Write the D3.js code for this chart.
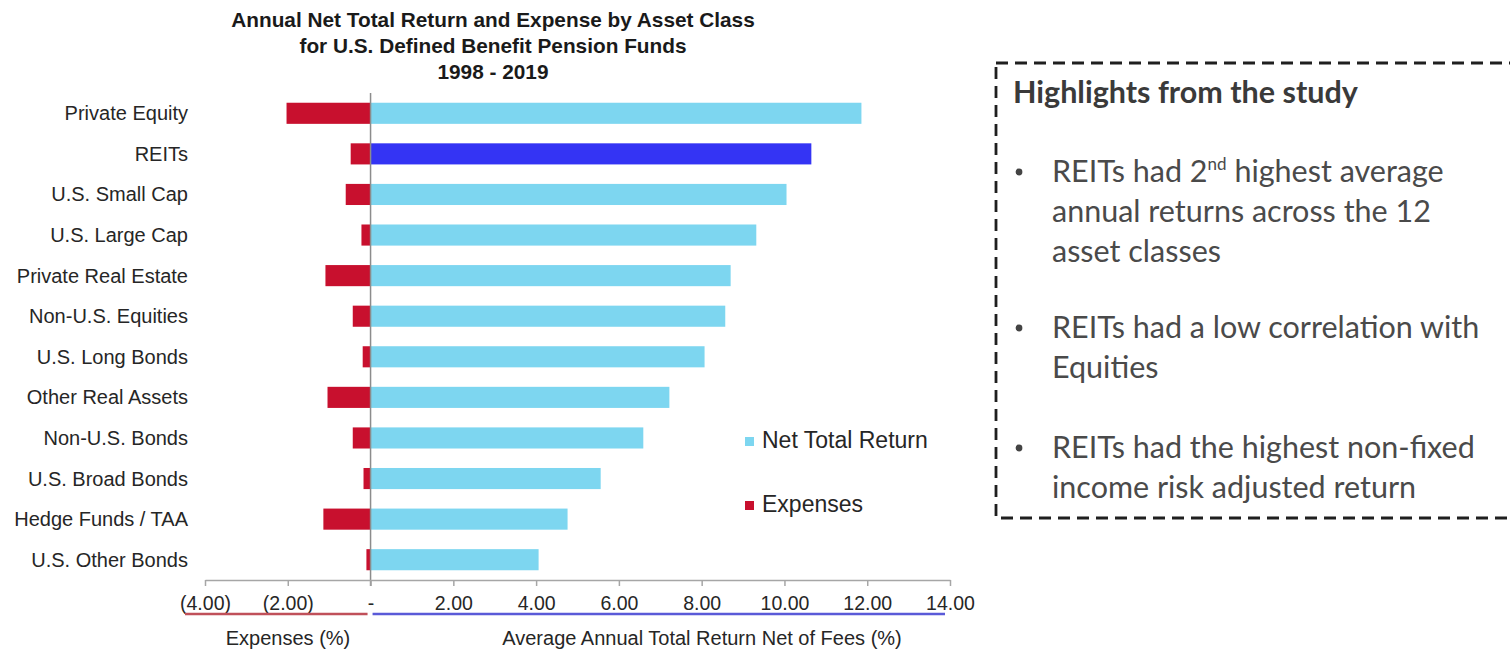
<!DOCTYPE html>
<html>
<head>
<meta charset="utf-8">
<script src="https://cdn.jsdelivr.net/npm/d3@7/dist/d3.min.js"></script>
<style>
  html, body { margin: 0; padding: 0; background: #fff; }
  svg { display: block; }
</style>
</head>
<body>
<svg id="chart" width="1510" height="655"></svg>
<script>
// Asset classes, top to bottom
const categories = [
  "Private Equity", "REITs", "U.S. Small Cap", "U.S. Large Cap",
  "Private Real Estate", "Non-U.S. Equities", "U.S. Long Bonds",
  "Other Real Assets", "Non-U.S. Bonds", "U.S. Broad Bonds",
  "Hedge Funds / TAA", "U.S. Other Bonds"
];
// Average annual total return net of fees (%)
const netReturn = [11.86, 10.65, 10.05, 9.32, 8.70, 8.57, 8.07, 7.22, 6.59, 5.56, 4.76, 4.06];
// Expenses (%), drawn to the left of zero
const expenses = [-2.03, -0.48, -0.60, -0.22, -1.09, -0.43, -0.19, -1.04, -0.43, -0.17, -1.14, -0.10];
const highlighted = "REITs";

const tickValues = [-4, -2, 0, 2, 4, 6, 8, 10, 12, 14];
const tickLabels = ["(4.00)", "(2.00)", "-", "2.00", "4.00", "6.00", "8.00", "10.00", "12.00", "14.00"];

const titleLines = [
  "Annual Net Total Return and Expense by Asset Class",
  "for U.S. Defined Benefit Pension Funds",
  "1998 - 2019"
];
const legendItems = ["Net Total Return", "Expenses"];
const axisTitles = ["Expenses (%)", "Average Annual Total Return Net of Fees (%)"];

const boxHeading = "Highlights from the study";
const bullets = [
  [[{t: "REITs had 2"}, {t: "nd", sup: true}, {t: " highest average"}], [{t: "annual returns across the 12"}], [{t: "asset classes"}]],
  [[{t: "REITs had a low correlation with"}], [{t: "Equities"}]],
  [[{t: "REITs had the highest non-fixed"}], [{t: "income risk adjusted return"}]]
];

const COLORS = {
  net: "#7dd6f0",
  highlight: "#3434f4",
  expense: "#c8102e",
  zero: "#8c8c8c",
  axis: "#a6a6a6",
  text: "#262626",
  expUnder: "#c0505a",
  netUnder: "#5a5ad8"
};

const svg = d3.select("#chart");
const FONT = "Arial, 'Liberation Sans', Helvetica, sans-serif";

// Scales
const x = d3.scaleLinear().domain([-4, 14]).range([205, 950]);
const y = d3.scaleBand().domain(categories).range([93, 580]).paddingInner(0.48).paddingOuter(0.24);

// Title
svg.append("g").selectAll("text").data(titleLines).join("text")
  .attr("x", 493).attr("y", (d, i) => 27 + i * 26)
  .attr("text-anchor", "middle")
  .attr("font-family", FONT).attr("font-weight", "bold").attr("font-size", 20.8)
  .attr("fill", "#1a1a1a")
  .text(d => d);

// Category labels
svg.append("g").selectAll("text").data(categories).join("text")
  .attr("x", 188).attr("y", d => y(d) + y.bandwidth() / 2 + 7)
  .attr("text-anchor", "end")
  .attr("font-family", FONT).attr("font-size", 20)
  .attr("fill", COLORS.text)
  .text(d => d);

// Net return bars
svg.append("g").selectAll("rect").data(categories).join("rect")
  .attr("x", x(0))
  .attr("y", d => y(d))
  .attr("width", (d, i) => x(netReturn[i]) - x(0))
  .attr("height", y.bandwidth())
  .attr("fill", d => d === highlighted ? COLORS.highlight : COLORS.net);

// Expense bars
svg.append("g").selectAll("rect").data(categories).join("rect")
  .attr("x", (d, i) => x(expenses[i]))
  .attr("y", d => y(d))
  .attr("width", (d, i) => x(0) - x(expenses[i]))
  .attr("height", y.bandwidth())
  .attr("fill", COLORS.expense);

// Zero line
svg.append("line")
  .attr("x1", x(0)).attr("x2", x(0))
  .attr("y1", 93).attr("y2", 586)
  .attr("stroke", COLORS.zero).attr("stroke-width", 1.5);

// Bottom axis
const axisG = svg.append("g").attr("transform", "translate(0,580)")
  .call(d3.axisBottom(x).tickValues(tickValues).tickSize(6).tickSizeOuter(0)
    .tickFormat((d, i) => tickLabels[i]));
axisG.select(".domain").attr("stroke", COLORS.axis).attr("stroke-width", 1.5);
axisG.selectAll(".tick line").attr("stroke", COLORS.axis).attr("stroke-width", 1.5);
axisG.selectAll(".tick text")
  .attr("y", 0).attr("dy", 30)
  .attr("font-family", FONT).attr("font-size", 19.5)
  .attr("fill", COLORS.text);

// Coloured underlines marking the two halves of the axis
svg.append("line")
  .attr("x1", x(-4) - 20).attr("x2", x(0) - 3)
  .attr("y1", 614).attr("y2", 614)
  .attr("stroke", COLORS.expUnder).attr("stroke-width", 2.5);
svg.append("line")
  .attr("x1", x(0) + 2).attr("x2", x(14) - 5)
  .attr("y1", 614).attr("y2", 614)
  .attr("stroke", COLORS.netUnder).attr("stroke-width", 2.5);

// Axis titles
svg.append("text")
  .attr("x", 288).attr("y", 645).attr("text-anchor", "middle")
  .attr("font-family", FONT).attr("font-size", 20).attr("fill", COLORS.text)
  .text(axisTitles[0]);
svg.append("text")
  .attr("x", 702).attr("y", 645).attr("text-anchor", "middle")
  .attr("font-family", FONT).attr("font-size", 20).attr("fill", COLORS.text)
  .text(axisTitles[1]);

// Legend
const legendColors = [COLORS.net, COLORS.expense];
const legend = svg.append("g").selectAll("g").data(legendItems).join("g")
  .attr("transform", (d, i) => `translate(745,${437 + i * 64})`);
legend.append("rect").attr("width", 9).attr("height", 9)
  .attr("fill", (d, i) => legendColors[i]);
legend.append("text")
  .attr("x", 17).attr("y", 11)
  .attr("font-family", FONT).attr("font-size", 23).attr("fill", COLORS.text)
  .text(d => d);

// Highlights box
const BOX_FONT = "Lato, 'Open Sans', sans-serif";
svg.append("rect")
  .attr("x", 996).attr("y", 63).attr("width", 560).attr("height", 455)
  .attr("fill", "none").attr("stroke", "#1f1f1f").attr("stroke-width", 2.8)
  .attr("stroke-dasharray", "12,7");

svg.append("text")
  .attr("x", 1013).attr("y", 103)
  .attr("font-family", BOX_FONT).attr("font-weight", "bold").attr("font-size", 30.5)
  .attr("fill", "#3a3a3a")
  .text(boxHeading);

const bulletTop = [182, 338, 458];
bullets.forEach((lines, b) => {
  svg.append("circle").attr("cx", 1019).attr("cy", bulletTop[b] - 10).attr("r", 3.4).attr("fill", "#444");
  lines.forEach((parts, li) => {
    const t = svg.append("text")
      .attr("x", 1052).attr("y", bulletTop[b] + li * 40)
      .attr("font-family", BOX_FONT).attr("font-size", 30.5)
      .attr("fill", "#4a4a4a");
    parts.forEach((p, pi) => {
      const ts = t.append("tspan").text(p.t);
      if (p.sup) ts.attr("font-size", 17).attr("dy", -12);
      else if (pi > 0 && parts[pi - 1].sup) ts.attr("dy", 12);
    });
  });
});
</script>
</body>
</html>
